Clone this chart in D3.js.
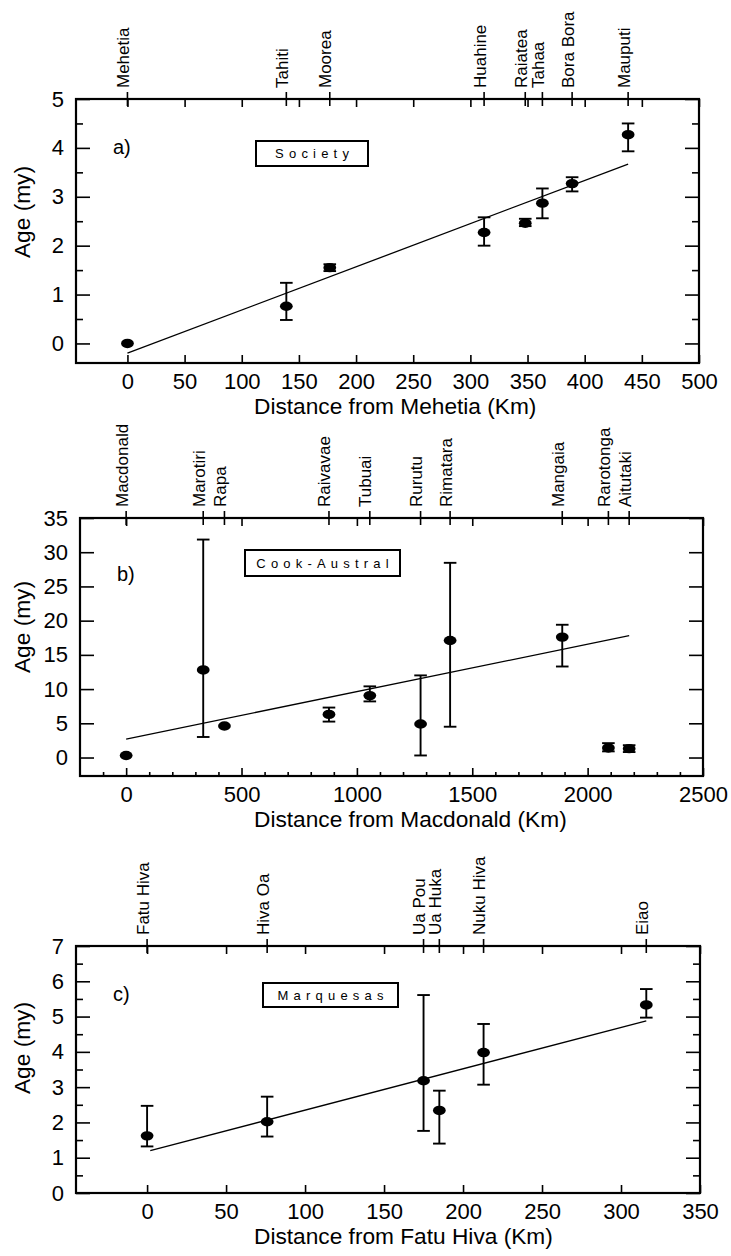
<!DOCTYPE html>
<html>
<head>
<meta charset="utf-8">
<script src="https://cdn.jsdelivr.net/npm/d3@7/dist/d3.min.js"></script>
<style>
  body { margin: 0; background: #fff; }
  svg { display: block; font-family: 'Liberation Sans', Arial, Helvetica, sans-serif; }
</style>
</head>
<body>
<svg id="chart" width="731" height="1256"></svg>
<script>
//Data: a) Society
const socIslands = ['Mehetia', 'Tahiti', 'Moorea', 'Huahine', 'Raiatea', 'Tahaa', 'Bora Bora', 'Mauputi'];
const socDist    = [0, 139, 177, 312, 348, 363, 389, 438];
const socAge     = [0, 0.76, 1.55, 2.27, 2.46, 2.87, 3.27, 4.27];
const socAgeMin  = [null, 0.48, 1.48, 2.00, 2.40, 2.56, 3.11, 3.93];
const socAgeMax  = [null, 1.24, 1.62, 2.58, 2.55, 3.17, 3.40, 4.50];
const socFitX    = [0, 438];
const socFitY    = [-0.2, 3.67];
const socXTicks  = [0, 50, 100, 150, 200, 250, 300, 350, 400, 450, 500];
const socYTicks  = [0, 1, 2, 3, 4, 5];
const socYMinor  = [0.5, 1.5, 2.5, 3.5, 4.5];

//Data: b) Cook-Austral
const caIslands = ['Macdonald', 'Marotiri', 'Rapa', 'Raivavae', 'Tubuai', 'Rurutu', 'Rimatara', 'Mangaia', 'Rarotonga', 'Aitutaki'];
const caDist    = [0, 334, 426, 879, 1056, 1276, 1404, 1890, 2090, 2180];
const caAge     = [0.3, 12.8, 4.6, 6.3, 9.05, 4.9, 17.1, 17.6, 1.4, 1.3];
const caAgeMin  = [null, 3.0, null, 5.25, 8.2, 0.3, 4.5, 13.3, 0.9, 0.8];
const caAgeMax  = [null, 31.85, null, 7.3, 10.4, 12.0, 28.45, 19.4, 2.1, 1.8];
const caFitX    = [0, 2180];
const caFitY    = [2.7, 17.8];
const caXTicks  = [0, 500, 1000, 1500, 2000, 2500];
const caXMinor  = [-100, 100, 200, 300, 400, 600, 700, 800, 900, 1100, 1200, 1300, 1400, 1600, 1700, 1800, 1900, 2100, 2200, 2300, 2400];
const caYTicks  = [0, 5, 10, 15, 20, 25, 30, 35];

//Data: c) Marquesas
const mqIslands = ['Fatu Hiva', 'Hiva Oa', 'Ua Pou', 'Ua Huka', 'Nuku Hiva', 'Eiao'];
const mqDist    = [0, 76, 175, 185, 213, 316];
const mqAge     = [1.62, 2.02, 3.18, 2.34, 3.98, 5.33];
const mqAgeMin  = [1.32, 1.60, 1.76, 1.40, 3.07, 4.97];
const mqAgeMax  = [2.47, 2.73, 5.61, 2.90, 4.79, 5.78];
const mqFitX    = [2, 316];
const mqFitY    = [1.2, 4.88];
const mqXTicks  = [0, 50, 100, 150, 200, 250, 300, 350];
const mqYTicks  = [0, 1, 2, 3, 4, 5, 6, 7];
const mqYMinor  = [0.5, 1.5, 2.5, 3.5, 4.5, 5.5, 6.5];

const svg = d3.select('#chart');
const FONT = "'Liberation Sans', Arial, Helvetica, sans-serif";
const TICK_FS = 22;
const TITLE_FS = 22.7;

const styleAxis = (sel, fs) => {
  sel.attr('font-family', FONT).attr('font-size', fs);
  sel.select('.domain').remove();
  sel.selectAll('line').attr('stroke', '#000').attr('stroke-width', 1.6);
  sel.selectAll('text').attr('fill', '#000');
};

const drawPanel = p => {
  const x = d3.scaleLinear().domain(p.xDomain).range([p.left, p.right]);
  const y = d3.scaleLinear().domain(p.yDomain).range([p.bottom, p.top]);
  const g = svg.append('g');

  // bottom axis (ticks point inward)
  g.append('g').attr('transform', `translate(0,${p.bottom})`)
    .call(d3.axisBottom(x).tickValues(p.xTicks).tickSize(-8).tickPadding(10).tickFormat(d3.format('d')))
    .call(s => styleAxis(s, TICK_FS));
  if (p.xMinor) {
    g.append('g').attr('transform', `translate(0,${p.bottom})`)
      .call(d3.axisBottom(x).tickValues(p.xMinor).tickSize(-4).tickFormat(''))
      .call(s => styleAxis(s, TICK_FS));
  }
  // top axis: regular ticks inward
  g.append('g').attr('transform', `translate(0,${p.top})`)
    .call(d3.axisTop(x).tickValues(p.xTicks).tickSize(-8).tickFormat(''))
    .call(s => styleAxis(s, 17));

  // left + right axes
  g.append('g').attr('transform', `translate(${p.left},0)`)
    .call(d3.axisLeft(y).tickValues(p.yTicks).tickSize(-14).tickPadding(12).tickFormat(d3.format('d')))
    .call(s => styleAxis(s, TICK_FS));
  g.append('g').attr('transform', `translate(${p.right},0)`)
    .call(d3.axisRight(y).tickValues(p.yTicks).tickSize(-14).tickFormat(''))
    .call(s => styleAxis(s, TICK_FS));
  if (p.yMinor) {
    g.append('g').attr('transform', `translate(${p.left},0)`)
      .call(d3.axisLeft(y).tickValues(p.yMinor).tickSize(-7).tickFormat(''))
      .call(s => styleAxis(s, TICK_FS));
    g.append('g').attr('transform', `translate(${p.right},0)`)
      .call(d3.axisRight(y).tickValues(p.yMinor).tickSize(-7).tickFormat(''))
      .call(s => styleAxis(s, TICK_FS));
  }

  // island ticks across the top edge + rotated names
  const isl = g.append('g');
  isl.selectAll('line').data(p.islands).join('line')
    .attr('x1', (d, i) => x(p.dist[i])).attr('x2', (d, i) => x(p.dist[i]))
    .attr('y1', p.top - 7).attr('y2', p.top + 7)
    .attr('stroke', '#000').attr('stroke-width', 1.6);
  isl.selectAll('text').data(p.islands).join('text')
    .attr('transform', (d, i) => `translate(${x(p.dist[i]) + 1.5},${p.top - 11}) rotate(-90)`)
    .attr('font-size', 17)
    .attr('text-anchor', 'start')
    .text(d => d);

  // frame
  g.append('rect')
    .attr('x', p.left).attr('y', p.top)
    .attr('width', p.right - p.left).attr('height', p.bottom - p.top)
    .attr('fill', 'none').attr('stroke', '#000').attr('stroke-width', 2.2);

  // regression line
  g.append('path')
    .datum(p.fitX.map((v, i) => [v, p.fitY[i]]))
    .attr('d', d3.line().x(d => x(d[0])).y(d => y(d[1])))
    .attr('fill', 'none').attr('stroke', '#000').attr('stroke-width', 1.3);

  // error bars
  const bars = p.dist.map((d, i) => ({ d, lo: p.ageMin[i], hi: p.ageMax[i] })).filter(b => b.lo !== null);
  const eb = g.append('g').attr('stroke', '#000').attr('stroke-width', 1.9);
  eb.selectAll('.v').data(bars).join('line').attr('class', 'v')
    .attr('x1', b => x(b.d)).attr('x2', b => x(b.d))
    .attr('y1', b => y(b.lo)).attr('y2', b => y(b.hi));
  eb.selectAll('.lo').data(bars).join('line').attr('class', 'lo')
    .attr('x1', b => x(b.d) - 6.3).attr('x2', b => x(b.d) + 6.3)
    .attr('y1', b => y(b.lo)).attr('y2', b => y(b.lo));
  eb.selectAll('.hi').data(bars).join('line').attr('class', 'hi')
    .attr('x1', b => x(b.d) - 6.3).attr('x2', b => x(b.d) + 6.3)
    .attr('y1', b => y(b.hi)).attr('y2', b => y(b.hi));

  // points
  g.append('g').selectAll('ellipse').data(p.age).join('ellipse')
    .attr('cx', (d, i) => x(p.dist[i])).attr('cy', d => y(d))
    .attr('rx', 6.4).attr('ry', 4.7).attr('fill', '#000');

  // panel letter
  g.append('text').attr('x', p.left + 37).attr('y', p.letterY)
    .attr('font-size', 20).text(p.letter);

  // name box
  g.append('rect')
    .attr('x', p.box[0]).attr('y', p.box[1]).attr('width', p.box[2]).attr('height', p.box[3])
    .attr('fill', '#fff').attr('stroke', '#000').attr('stroke-width', 2);
  g.append('text')
    .attr('x', p.box[0] + p.box[2] / 2 + 2.6).attr('y', p.box[1] + p.box[3] / 2 + 4.6)
    .attr('text-anchor', 'middle').attr('font-size', 13).attr('letter-spacing', 5.2)
    .text(p.name);

  // axis titles
  g.append('text').attr('x', 254).attr('y', p.bottom + 51)
    .attr('font-size', TITLE_FS).text(p.xTitle);
  g.append('text').attr('transform', `translate(30,${p.yTitleY}) rotate(-90)`)
    .attr('text-anchor', 'middle').attr('font-size', TITLE_FS).text('Age (my)');
};

drawPanel({
  islands: socIslands, dist: socDist, age: socAge, ageMin: socAgeMin, ageMax: socAgeMax,
  fitX: socFitX, fitY: socFitY, xTicks: socXTicks, yTicks: socYTicks, yMinor: socYMinor,
  xDomain: [-45, 500], yDomain: [-0.4, 5],
  left: 76, right: 699, top: 99, bottom: 363,
  letter: 'a)', letterY: 154, name: 'Society', box: [256, 141, 112, 25],
  xTitle: 'Distance from Mehetia (Km)', yTitleY: 212
});

drawPanel({
  islands: caIslands, dist: caDist, age: caAge, ageMin: caAgeMin, ageMax: caAgeMax,
  fitX: caFitX, fitY: caFitY, xTicks: caXTicks, xMinor: caXMinor, yTicks: caYTicks,
  xDomain: [-200, 2500], yDomain: [-2.7, 35],
  left: 80, right: 703, top: 518, bottom: 776,
  letter: 'b)', letterY: 581, name: 'Cook-Austral', box: [245, 550, 155, 26],
  xTitle: 'Distance from Macdonald (Km)', yTitleY: 627
});

drawPanel({
  islands: mqIslands, dist: mqDist, age: mqAge, ageMin: mqAgeMin, ageMax: mqAgeMax,
  fitX: mqFitX, fitY: mqFitY, xTicks: mqXTicks, yTicks: mqYTicks, yMinor: mqYMinor,
  xDomain: [-45, 350], yDomain: [0, 7],
  left: 76, right: 700, top: 946, bottom: 1193,
  letter: 'c)', letterY: 1001, name: 'Marquesas', box: [263, 983, 135, 24],
  xTitle: 'Distance from Fatu Hiva (Km)', yTitleY: 1048
});
</script>
</body>
</html>
